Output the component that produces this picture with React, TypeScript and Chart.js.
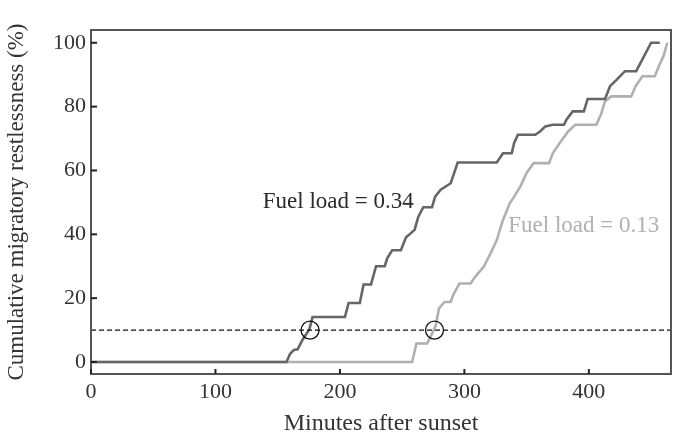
import React, { useEffect, useRef } from "react";
import { Chart, registerables } from "chart.js";

Chart.register(...registerables);

// Fuel load = 0.34 (dark curve): minutes after sunset / cumulative %
const darkX = [0, 157, 160, 163, 166, 170, 175.5, 178, 204, 207, 216, 219, 225, 229, 236, 238, 242, 249, 253, 260, 263, 267, 274, 276.5, 281, 289, 294.6, 326, 331, 338, 340, 343, 357, 361, 365, 371, 380, 382, 387, 396, 399, 413, 417, 422, 429, 438, 443, 450, 457];
const darkY = [0, 0, 2.6, 3.8, 4, 7, 10.3, 14.1, 14.1, 18.5, 18.5, 24.3, 24.3, 30, 30, 32.5, 35, 35, 39, 41.4, 45.5, 48.5, 48.5, 51.8, 54, 56, 62.5, 62.5, 65.4, 65.4, 68.6, 71.2, 71.2, 72.3, 73.8, 74.3, 74.3, 75.9, 78.5, 78.5, 82.4, 82.4, 86.4, 88.3, 91.1, 91.1, 94.8, 100, 100];

// Fuel load = 0.13 (light curve)
const lightX = [0, 258, 261.5, 270, 274, 277, 279.6, 284, 289, 291, 296, 305, 308.6, 315.5, 321, 326, 331, 336.5, 340, 345, 350, 355.6, 368, 371, 376.6, 383.5, 389, 406, 409.7, 413, 418, 434, 437.6, 443, 453, 456.8, 460, 463];
const lightY = [0, 0, 5.8, 5.8, 8.9, 11.5, 16.8, 18.8, 18.8, 21, 24.6, 24.6, 26.7, 29.8, 34, 38.2, 44.5, 49.7, 51.8, 55, 59.2, 62.3, 62.3, 65.4, 68.6, 72.3, 74.3, 74.3, 77.5, 81.7, 83.2, 83.2, 86.4, 89.5, 89.5, 93.2, 95.8, 100];

const thresholdY = 10;
const circleX = [176, 276];
const labels = ["Fuel load = 0.34", "Fuel load = 0.13"];
const labelX = [138, 335.3];
const labelY = [48.2, 40.6];

const xTitle = "Minutes after sunset";
const yTitle = "Cumulative migratory restlessness (%)";

const FONT = "'Liberation Serif', 'DejaVu Serif', serif";
const DARK = "#666666";
const LIGHT = "#b0b0b0";

const overlay = {
  id: "overlay",
  afterDraw(chart: any) {
    const { ctx, chartArea: a, scales } = chart;
    const xs = scales.x;
    const ys = scales.y;
    ctx.save();
    // dashed threshold
    const ty = ys.getPixelForValue(thresholdY);
    ctx.strokeStyle = "#111";
    ctx.lineWidth = 1.2;
    ctx.setLineDash([5, 3]);
    ctx.beginPath();
    ctx.moveTo(a.left, ty);
    ctx.lineTo(a.right, ty);
    ctx.stroke();
    ctx.setLineDash([]);
    // circles
    ctx.lineWidth = 1.3;
    circleX.forEach((cx) => {
      ctx.beginPath();
      ctx.arc(xs.getPixelForValue(cx), ty, 9, 0, Math.PI * 2);
      ctx.stroke();
    });
    // frame
    ctx.strokeStyle = "#555";
    ctx.lineWidth = 2;
    ctx.strokeRect(a.left, a.top, a.right - a.left, a.bottom - a.top);
    // inner ticks
    ctx.strokeStyle = "#222";
    ctx.lineWidth = 2;
    ys.ticks.forEach((t: any) => {
      const y = ys.getPixelForValue(t.value);
      ctx.beginPath();
      ctx.moveTo(a.left, y);
      ctx.lineTo(a.left + 6, y);
      ctx.stroke();
    });
    xs.ticks.forEach((t: any) => {
      const x = xs.getPixelForValue(t.value);
      ctx.beginPath();
      ctx.moveTo(x, a.bottom);
      ctx.lineTo(x, a.bottom - 5);
      ctx.stroke();
    });
    // labels
    ctx.font = "23px " + FONT;
    ctx.textAlign = "left";
    ctx.textBaseline = "alphabetic";
    const colors = ["#2a2a2a", LIGHT];
    labels.forEach((s, i) => {
      ctx.fillStyle = colors[i];
      ctx.fillText(s, xs.getPixelForValue(labelX[i]), ys.getPixelForValue(labelY[i]));
    });
    ctx.restore();
  },
};

export default function App() {
  const ref = useRef<HTMLCanvasElement | null>(null);
  useEffect(() => {
    if (!ref.current) return;
    const chart = new Chart(ref.current, {
      type: "scatter",
      data: {
        datasets: [
          {
            label: labels[0],
            data: darkX.map((x, i) => ({ x, y: darkY[i] })),
            showLine: true,
            borderColor: DARK,
            borderWidth: 2.6,
            pointRadius: 0,
            tension: 0,
          },
          {
            label: labels[1],
            data: lightX.map((x, i) => ({ x, y: lightY[i] })),
            showLine: true,
            borderColor: LIGHT,
            borderWidth: 2.6,
            pointRadius: 0,
            tension: 0,
          },
        ],
      },
      options: {
        animation: false,
        responsive: false,
        devicePixelRatio: 1,
        layout: { padding: { left: 0, right: 7, top: 30, bottom: 0 } },
        plugins: { legend: { display: false }, tooltip: { enabled: false } },
        scales: {
          x: {
            type: "linear",
            min: 0,
            max: 466,
            grid: { display: false, drawTicks: false },
            border: { display: false },
            ticks: {
              stepSize: 100,
              includeBounds: false,
              color: "#333",
              padding: 5,
              font: { family: FONT, size: 22 },
            },
            title: {
              display: true,
              text: xTitle,
              color: "#333",
              font: { family: FONT, size: 24, lineHeight: 0.8 },
              padding: { top: 0, bottom: 0 },
            },
            afterFit: (s: any) => {
              s.height = 59;
            },
          },
          y: {
            type: "linear",
            min: -3.75,
            max: 104,
            grid: { display: false, drawTicks: false },
            border: { display: false },
            ticks: {
              stepSize: 20,
              includeBounds: false,
              color: "#333",
              padding: 5,
              font: { family: FONT, size: 22 },
            },
            title: {
              display: true,
              text: yTitle,
              color: "#333",
              font: { family: FONT, size: 23, lineHeight: 1.2 },
              padding: { top: 3, bottom: 0 },
            },
            afterFit: (s: any) => {
              s.width = 91;
            },
          },
        },
      },
      plugins: [overlay],
    });
    return () => chart.destroy();
  }, []);
  return (
    <div style={{ position: "fixed", left: 0, top: 0, width: 678, height: 433, background: "#fff" }}>
      <canvas ref={ref} width={678} height={433} style={{ width: 678, height: 433 }} />
    </div>
  );
}
